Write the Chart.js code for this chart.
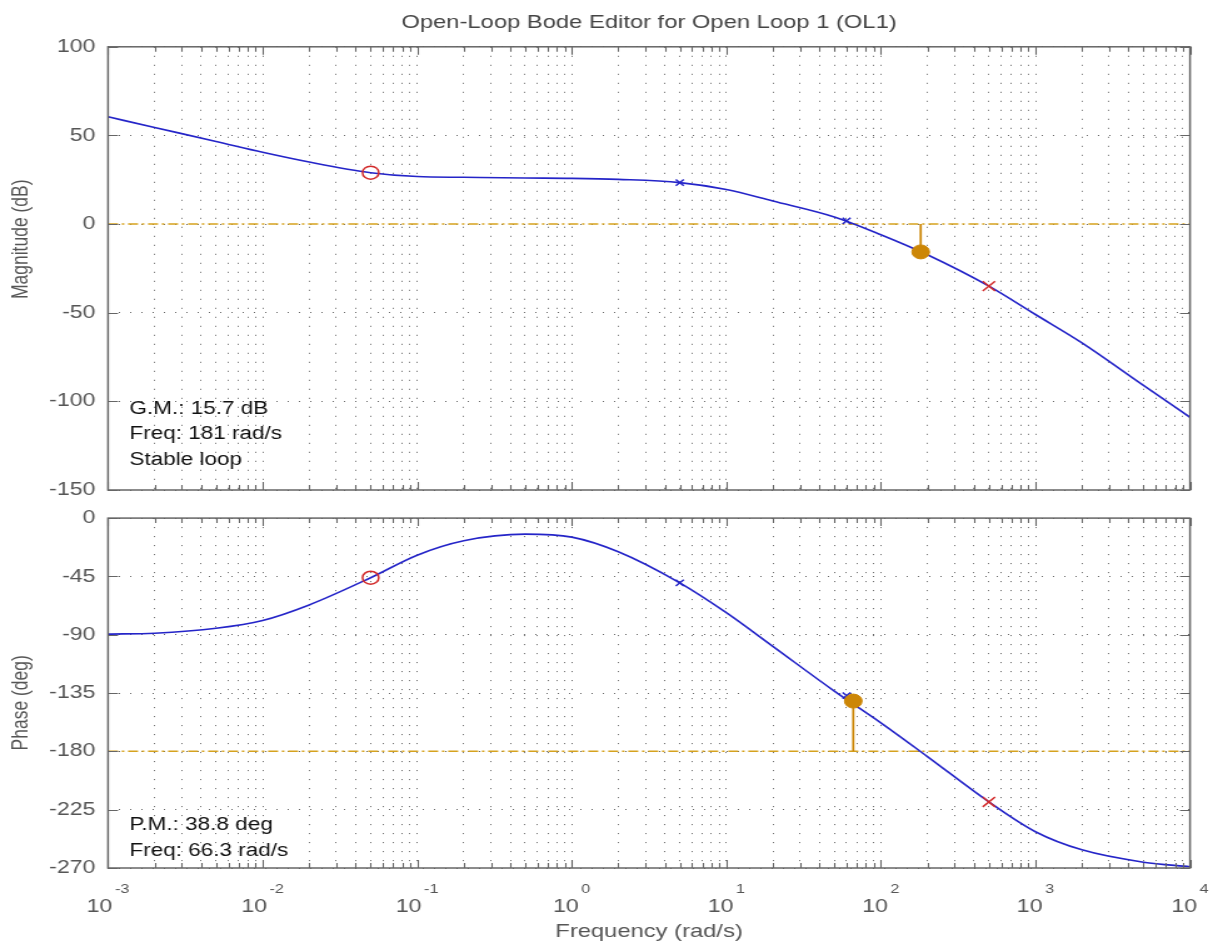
<!DOCTYPE html>
<html>
<head>
<meta charset="utf-8">
<title>Open-Loop Bode Editor for Open Loop 1 (OL1)</title>
<script src="https://cdn.jsdelivr.net/npm/chart.js@4.4.1/dist/chart.umd.min.js"></script>
<style>
  body { margin: 0; background: #fff; }
  #wrap { position: relative; width: 1213px; height: 943px; }
  canvas { position: absolute; left: 0; }
</style>
</head>
<body>
<div id="wrap">
  <!-- drawn narrow and stretched sideways, like the original screenshot -->
  <canvas id="magChart" width="970" height="512" style="width:1213px;height:512px;top:0"></canvas>
  <canvas id="phaseChart" width="970" height="446" style="width:1213px;height:446px;top:497px"></canvas>
</div>
<script>
// values
const freq = [0.001, 0.002, 0.005, 0.01, 0.02, 0.05, 0.1, 0.2, 0.5, 1, 2, 5, 10, 20, 50, 100, 200, 500, 1000, 2000, 5000, 10000];
const magDb = [60.5, 54.5, 46.6, 40.5, 35, 29, 26.8, 26.4, 26, 25.8, 25.2, 23.4, 19.5, 13, 4, -6, -17.3, -35, -51, -67, -91, -109];
const phaseDeg = [-89.5, -88.8, -85, -79, -67, -46, -28.6, -17.5, -12.4, -14.7, -26, -50, -73, -99, -133.5, -158, -184, -219, -242, -256, -265.5, -269];

// compensator zero / poles markers
const zeroFreq = [0.05];
const zeroMag = [29];
const zeroPhase = [-46];
const bluePoleFreq = [5, 60];
const bluePoleMag = [23.4, 1.8];
const bluePolePhase = [-50, -137];
const redPoleFreq = [500];
const redPoleMag = [-35];
const redPolePhase = [-219];

// stability margins
const gmFreq = 181;
const gmDb = -15.7;
const pmFreq = 66.3;
const pmPhase = -141.2;

const decades = [-3, -2, -1, 0, 1, 2, 3, 4];
const magTicks = [100, 50, 0, -50, -100, -150];
const phaseTicks = [0, -45, -90, -135, -180, -225, -270];
const gmNotes = ["G.M.: 15.7 dB", "Freq: 181 rad/s", "Stable loop"];
const pmNotes = ["P.M.: 38.8 deg", "Freq: 66.3 rad/s"];

const blue = "#2424c8";
const gold = "#d6a21e";
const amber = "#cc8606";
const red = "#d22a2a";
const gray = "#555";
const font = "'Liberation Sans', Arial, sans-serif";

Chart.defaults.font.family = font;
Chart.defaults.color = gray;

// every 1..9 x 10^n for the log grid
const gridVals = [];
decades.forEach((e, i) => {
  if (i === decades.length - 1) {
    gridVals.push(Math.pow(10, e));
    return;
  }
  for (let m = 1; m < 10; m++) gridVals.push(m * Math.pow(10, e));
});

const pts = (xs, ys) => xs.map((x, i) => ({ x, y: ys[i] }));
const isDecade = v => Math.abs(Math.log10(v) - Math.round(Math.log10(v))) < 1e-9;

const framePlugin = {
  id: "frame",
  afterDraw(chart) {
    const { ctx, chartArea: a, scales: { x, y } } = chart;
    ctx.save();
    ctx.strokeStyle = "#666";
    ctx.lineWidth = 1.1;
    ctx.beginPath();
    x.ticks.forEach(t => {
      const px = Math.round(x.getPixelForValue(t.value)) + 0.5;
      const len = isDecade(t.value) ? 8 : 5;
      ctx.moveTo(px, a.bottom);
      ctx.lineTo(px, a.bottom - len);
      ctx.moveTo(px, a.top);
      ctx.lineTo(px, a.top + len);
    });
    y.ticks.forEach(t => {
      const py = Math.round(y.getPixelForValue(t.value)) + 0.5;
      ctx.moveTo(a.left, py);
      ctx.lineTo(a.left + 8, py);
      ctx.moveTo(a.right, py);
      ctx.lineTo(a.right - 8, py);
    });
    ctx.stroke();
    ctx.lineWidth = 1.5;
    ctx.strokeRect(a.left, a.top, a.right - a.left, a.bottom - a.top);
    ctx.restore();
  }
};

const notesPlugin = {
  id: "notes",
  afterDraw(chart, args, opts) {
    if (!opts.lines) return;
    const { ctx, chartArea: a } = chart;
    ctx.save();
    ctx.font = `18px ${font}`;
    ctx.fillStyle = "#111";
    ctx.textBaseline = "middle";
    opts.lines.forEach((s, i) => ctx.fillText(s, a.left + 17, a.bottom - opts.lift + i * opts.step));
    ctx.restore();
  }
};

// 10^n labels with a raised exponent
const decadeLabels = {
  id: "decadeLabels",
  afterDraw(chart) {
    const { ctx, scales: { x }, chartArea: a } = chart;
    ctx.save();
    ctx.fillStyle = gray;
    ctx.textBaseline = "alphabetic";
    decades.forEach(e => {
      const px = x.getPixelForValue(Math.pow(10, e));
      const sup = String(e);
      ctx.font = `18.5px ${font}`;
      const wb = ctx.measureText("10").width;
      ctx.font = `13px ${font}`;
      const we = ctx.measureText(sup).width;
      const left = px - (wb + we + 2) / 2;
      ctx.font = `18.5px ${font}`;
      ctx.fillText("10", left, a.bottom + 44);
      ctx.font = `13px ${font}`;
      ctx.fillText(sup, left + wb + 2, a.bottom + 25);
    });
    ctx.restore();
  }
};

function buildSets(curve, refLevel, mFreq, mVal, zVals, bVals, rVals) {
  return [
    {
      data: pts(freq, curve), borderColor: blue, borderWidth: 1.6, pointRadius: 0,
      cubicInterpolationMode: "monotone", order: 3
    },
    {
      data: pts([freq[0], freq[freq.length - 1]], [refLevel, refLevel]), borderColor: gold,
      borderWidth: 1.5, borderDash: [8, 3, 2, 3], pointRadius: 0, order: 5
    },
    {
      data: pts([mFreq, mFreq], [refLevel, mVal]), borderColor: amber, borderWidth: 1.8,
      pointRadius: 0, order: 4
    },
    {
      data: pts([mFreq], [mVal]), showLine: false, pointRadius: 7,
      pointBackgroundColor: amber, pointBorderColor: amber, order: 1
    },
    {
      data: pts(zeroFreq, zVals), showLine: false, pointStyle: "circle", pointRadius: 6.5,
      pointBorderColor: red, pointBackgroundColor: "rgba(0,0,0,0)", pointBorderWidth: 1.5, order: 2
    },
    {
      data: pts(bluePoleFreq, bVals), showLine: false, pointStyle: "crossRot", pointRadius: 4.5,
      pointBorderColor: blue, pointBorderWidth: 1.5, order: 2
    },
    {
      data: pts(redPoleFreq, rVals), showLine: false, pointStyle: "crossRot", pointRadius: 7,
      pointBorderColor: red, pointBorderWidth: 1.5, order: 2
    }
  ];
}

function makeOptions(yTicks, yTitle, xHeight, notes, xTitle) {
  return {
    responsive: false,
    animation: false,
    events: [],
    layout: { padding: { top: 0, right: 18.4, left: 0, bottom: 0 } },
    plugins: {
      legend: { display: false },
      tooltip: { enabled: false },
      notes
    },
    scales: {
      x: {
        type: "logarithmic",
        min: 1e-3,
        max: 1e4,
        afterBuildTicks: s => { s.ticks = gridVals.map(v => ({ value: v })); },
        afterFit: s => { s.height = xHeight; },
        ticks: { display: false },
        grid: { color: "#666", lineWidth: 1, drawTicks: false },
        border: { display: false, dash: [1, 8] },
        title: {
          display: !!xTitle, text: xTitle || "", color: gray,
          font: { size: 19 }, padding: { top: 0, bottom: 0 }
        }
      },
      y: {
        min: yTicks[yTicks.length - 1],
        max: yTicks[0],
        afterBuildTicks: s => { s.ticks = yTicks.map(v => ({ value: v })); },
        afterFit: s => { s.width = 86.4; },
        ticks: { padding: 10, font: { size: 18.5 }, color: gray },
        grid: { color: "#666", lineWidth: 1, drawTicks: false },
        border: { display: false, dash: [1, 8] },
        title: { display: true, text: yTitle, color: gray, font: { size: 17.5 }, padding: { top: 7 } }
      }
    }
  };
}

// the original labels sit a little off the panel centres
const magOpts = makeOptions(magTicks, " ".repeat(12) + "Magnitude (dB)", 22, { lines: gmNotes, lift: 81, step: 25.5 });
magOpts.plugins.title = {
  display: true,
  fullSize: false,
  text: "Open-Loop Bode Editor for Open Loop 1 (OL1)",
  color: "#444",
  font: { size: 19, weight: "normal" },
  padding: { top: 11, bottom: 13 }
};

new Chart(document.getElementById("magChart"), {
  type: "line",
  data: { datasets: buildSets(magDb, 0, gmFreq, gmDb, zeroMag, bluePoleMag, redPoleMag) },
  options: magOpts,
  plugins: [framePlugin, notesPlugin]
});

new Chart(document.getElementById("phaseChart"), {
  type: "line",
  data: { datasets: buildSets(phaseDeg, -180, pmFreq, pmPhase, zeroPhase, bluePolePhase, redPolePhase) },
  options: makeOptions(phaseTicks, "Phase (deg)" + " ".repeat(4), 75, { lines: pmNotes, lift: 43, step: 26 }, "Frequency (rad/s)"),
  plugins: [framePlugin, notesPlugin, decadeLabels]
});
</script>
</body>
</html>
